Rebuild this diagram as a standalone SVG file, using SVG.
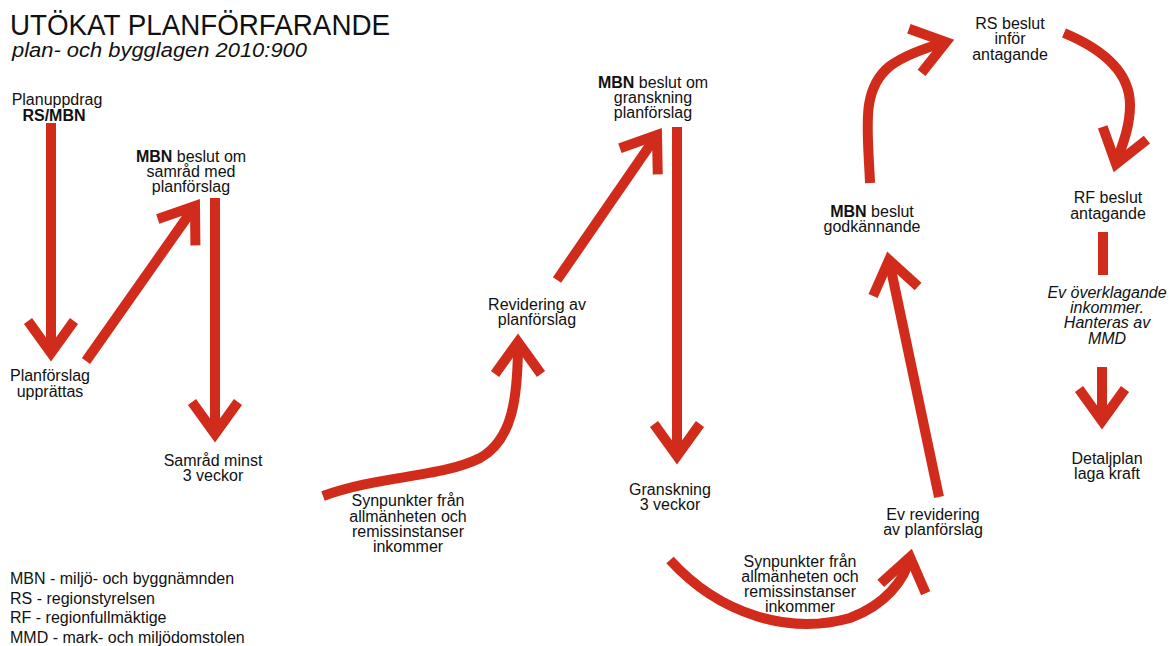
<svg xmlns="http://www.w3.org/2000/svg" width="1169" height="646" viewBox="0 0 1169 646">
<style>
text{font-family:"Liberation Sans",Arial,sans-serif;font-size:16px;fill:#111}
.c{text-anchor:middle}
.b{font-weight:bold}
.i{font-style:italic}
.arr{fill:none;stroke:#d12b1b;stroke-width:10;marker-end:url(#chev)}
.bar{fill:none;stroke:#d12b1b;stroke-width:10}
</style>
<defs>
<marker id="chev" markerUnits="userSpaceOnUse" markerWidth="80" markerHeight="80" viewBox="-50 -40 80 80" refX="0" refY="0" orient="auto" overflow="visible">
<path d="M-32,-23 L0,0 L-32,23" fill="none" stroke="#d12b1b" stroke-width="10" stroke-linejoin="miter"/>
</marker>
</defs>
<rect width="1169" height="646" fill="#fff"/>
<g id="title">
<text x="10" y="35" style="font-size:30px" textLength="380" lengthAdjust="spacingAndGlyphs">UTÖKAT PLANFÖRFARANDE</text>
<text x="12" y="57" class="i" style="font-size:20px" textLength="295" lengthAdjust="spacingAndGlyphs">plan- och bygglagen 2010:900</text>
</g>
<g id="connectors">
<path class="arr" d="M51,123 V353"/>
<path class="arr" d="M86,361 L195,206"/>
<path class="arr" d="M215,198 V434"/>
<path class="arr" d="M323,496 C380,475 440,478 480,458 C512,440 518,400 518,342"/>
<path class="arr" d="M557,280 L657,135"/>
<path class="arr" d="M677,127 V456"/>
<path class="arr" d="M670,560 C720,615 790,635 850,618 C885,605 905,580 910,557"/>
<path class="arr" d="M939,497 L889,260"/>
<path class="arr" d="M870,183 C868,130 860,90 890,66 C905,55 925,48 946,42"/>
<path class="arr" d="M1064,33 C1100,48 1130,70 1130,105 C1130,130 1120,150 1116,164"/>
<path class="bar" d="M1103,232 V275"/>
<path class="arr" d="M1102,367 V421"/>
</g>
<g id="n-planuppdrag"><text x="57" y="105" class="c">Planuppdrag</text><text x="54" y="121" class="c b">RS/MBN</text></g>
<g id="n-planforslag"><text x="50" y="381" class="c">Planförslag</text><text x="50" y="397" class="c">upprättas</text></g>
<g id="n-mbn-samrad"><text x="191" y="162" class="c"><tspan class="b">MBN</tspan> beslut om</text><text x="191" y="177" class="c">samråd med</text><text x="191" y="192" class="c">planförslag</text></g>
<g id="n-samrad"><text x="213" y="466" class="c">Samråd minst</text><text x="213" y="481" class="c">3 veckor</text></g>
<g id="n-synpunkter1"><text x="408" y="506" class="c">Synpunkter från</text><text x="408" y="522" class="c">allmänheten och</text><text x="408" y="537" class="c">remissinstanser</text><text x="408" y="552" class="c">inkommer</text></g>
<g id="n-revidering"><text x="537" y="310" class="c">Revidering av</text><text x="537" y="325" class="c">planförslag</text></g>
<g id="n-mbn-granskning"><text x="653" y="88" class="c"><tspan class="b">MBN</tspan> beslut om</text><text x="653" y="103" class="c">granskning</text><text x="653" y="118" class="c">planförslag</text></g>
<g id="n-granskning"><text x="670" y="495" class="c">Granskning</text><text x="670" y="510" class="c">3 veckor</text></g>
<g id="n-synpunkter2"><text x="800" y="567" class="c">Synpunkter från</text><text x="800" y="582" class="c">allmänheten och</text><text x="800" y="597" class="c">remissinstanser</text><text x="800" y="612" class="c">inkommer</text></g>
<g id="n-ev-revidering"><text x="933" y="520" class="c">Ev revidering</text><text x="933" y="535" class="c">av planförslag</text></g>
<g id="n-mbn-godkannande"><text x="872" y="217" class="c"><tspan class="b">MBN</tspan> beslut</text><text x="872" y="232" class="c">godkännande</text></g>
<g id="n-rs"><text x="1010" y="29" class="c">RS beslut</text><text x="1010" y="44" class="c">inför</text><text x="1010" y="60" class="c">antagande</text></g>
<g id="n-rf"><text x="1108" y="203" class="c">RF beslut</text><text x="1108" y="219" class="c">antagande</text></g>
<g id="n-overklagande"><text x="1107" y="298" class="c i">Ev överklagande</text><text x="1107" y="313" class="c i">inkommer.</text><text x="1107" y="328" class="c i">Hanteras av</text><text x="1107" y="344" class="c i">MMD</text></g>
<g id="n-detaljplan"><text x="1107" y="464" class="c">Detaljplan</text><text x="1107" y="479" class="c">laga kraft</text></g>
<g id="legend">
<text x="10" y="584">MBN - miljö- och byggnämnden</text>
<text x="10" y="604">RS - regionstyrelsen</text>
<text x="10" y="623">RF - regionfullmäktige</text>
<text x="10" y="643">MMD - mark- och miljödomstolen</text>
</g>
</svg>
